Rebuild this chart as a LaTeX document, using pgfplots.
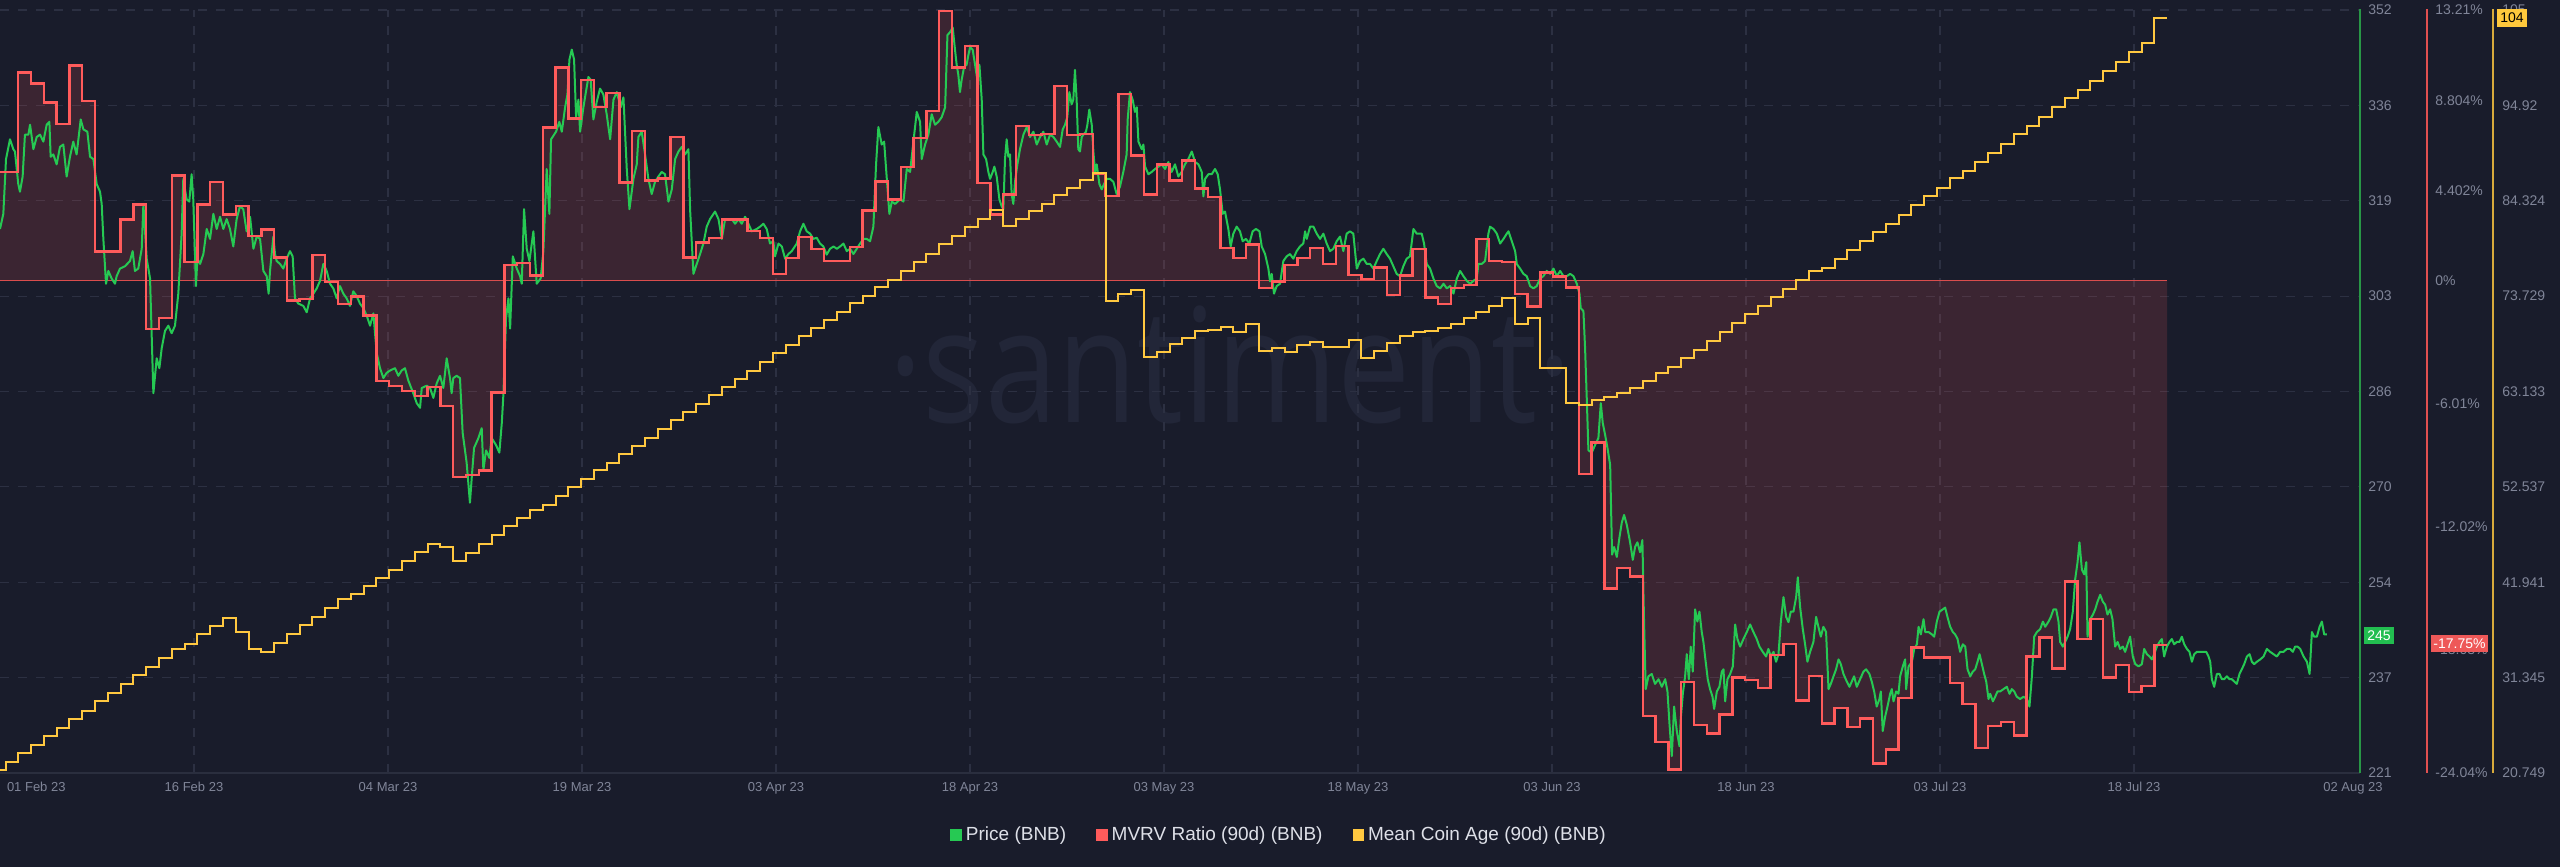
\documentclass[border=0pt]{standalone}
\usepackage{pgfplots}
\pgfplotsset{compat=1.18}
\usepackage{pgfplotstable}
\usepackage{graphicx}
\usepackage{fontspec}
\setmainfont{Liberation Sans}
\newfontfamily\wmfont{Open Sans}

\definecolor{bg}{RGB}{25,28,43}
\definecolor{gridc}{RGB}{44,48,66}
\definecolor{basec}{RGB}{42,46,62}
\definecolor{pricegreen}{RGB}{38,201,83}
\definecolor{mvrvred}{RGB}{255,91,91}
\definecolor{ageyellow}{RGB}{255,200,64}
\definecolor{ticktext}{RGB}{128,133,152}
\definecolor{legtext}{RGB}{222,224,232}
\definecolor{wm}{RGB}{34,38,56}
\definecolor{axgreen}{RGB}{40,150,70}
\definecolor{axred}{RGB}{225,80,80}
\definecolor{axyellow}{RGB}{215,170,60}
\definecolor{badgegreen}{RGB}{34,190,80}
\definecolor{badgered}{RGB}{238,88,88}
\definecolor{badgeyellow}{RGB}{255,200,60}

% MVRV Ratio (90d), % ; x = days since 01 Feb 2023
\pgfplotstableread{
x y
0 5.30
1.43 10.16
2.43 9.62
3.43 8.70
4.43 7.65
5.43 10.50
6.43 8.77
7.43 1.41
8.43 1.41
9.43 2.99
10.43 3.72
11.43 -2.36
12.43 -1.82
13.43 5.13
14.43 0.92
15.43 3.72
16.43 4.81
17.43 3.23
18.43 3.64
19.43 2.19
20.43 2.50
21.43 1.12
22.43 -0.98
23.43 -0.90
24.43 1.24
25.43 -0.07
26.43 -1.14
27.43 -0.78
28.43 -1.70
29.43 -4.91
30.43 -5.15
31.43 -5.40
32.43 -5.64
33.43 -5.20
34.43 -6.12
35.43 -9.58
36.43 -9.48
37.43 -9.28
38.43 -5.47
39.43 0.75
40.43 0.87
41.43 0.24
42.43 7.48
43.43 10.40
44.43 7.92
45.43 9.79
46.43 8.46
47.43 9.16
48.43 4.79
49.43 7.29
50.43 4.88
51.43 4.98
52.43 7.00
53.43 1.12
54.43 1.85
55.43 2.07
56.43 2.99
57.43 2.99
58.43 2.43
59.43 2.07
60.43 0.32
61.43 1.09
62.43 2.14
63.43 1.53
64.43 0.97
65.43 0.97
66.43 1.65
67.43 3.43
68.43 4.83
69.43 3.96
70.43 5.54
71.43 6.95
72.43 8.29
73.43 13.15
74.43 10.40
75.43 11.44
76.43 4.76
77.43 3.23
78.43 4.20
79.43 7.56
80.43 7.12
81.43 7.17
82.43 9.50
83.43 7.12
84.43 7.17
85.43 5.22
86.43 4.13
87.43 9.11
88.43 6.10
89.43 4.20
90.43 5.66
91.43 4.88
92.43 5.86
93.43 4.49
94.43 4.08
95.43 1.60
96.43 1.09
97.43 1.77
98.43 -0.37
99.43 -0.05
100.43 0.75
101.43 1.09
102.43 1.58
103.43 0.80
104.43 1.70
105.43 0.27
106.43 0.07
107.43 0.63
108.43 -0.71
109.43 0.24
110.43 1.53
111.43 -0.83
112.43 -1.14
113.43 -0.37
114.43 -0.22
115.43 2.02
116.43 0.97
117.43 0.92
118.43 -0.66
119.43 -1.26
120.43 0.39
121.43 0.19
122.43 -0.34
123.43 -9.45
124.43 -7.90
125.43 -15.04
126.43 -14.02
127.43 -14.44
128.43 -21.26
129.43 -22.53
130.43 -23.86
131.43 -19.61
132.43 -21.70
133.43 -22.11
134.43 -21.19
135.43 -19.37
136.43 -19.49
137.43 -19.90
138.43 -18.27
139.43 -17.74
140.43 -20.51
141.43 -19.30
142.43 -21.63
143.43 -20.87
144.43 -21.80
145.43 -21.38
146.43 -23.57
147.43 -22.90
148.43 -20.39
149.43 -17.91
150.43 -18.40
151.43 -18.40
152.43 -19.66
153.43 -20.66
154.43 -22.82
155.43 -21.75
156.43 -21.56
157.43 -22.21
158.43 -18.35
159.43 -17.42
160.43 -18.93
161.43 -14.70
162.43 -17.50
163.43 -16.52
164.43 -19.37
165.43 -18.76
166.43 -20.10
167.43 -19.78
168.43 -17.79
169.43 -17.79
}\mvrv

% Mean Coin Age (90d)
\pgfplotstableread{
x y
0 21.07
0.43 21.96
1.43 22.95
2.43 23.84
3.43 24.83
4.43 25.77
5.43 26.76
6.43 27.59
7.43 28.70
8.43 29.64
9.43 30.63
10.43 31.63
11.43 32.57
12.43 33.51
13.43 34.50
14.43 35.06
15.43 36.16
16.43 37.10
17.43 37.99
18.43 36.44
19.43 34.50
20.43 34.23
21.43 35.17
22.43 36.16
23.43 37.16
24.43 38.10
25.43 39.09
26.43 40.03
27.43 40.69
28.43 41.52
29.43 42.41
30.43 43.35
31.43 44.34
32.43 45.28
33.43 46.22
34.43 45.83
35.43 44.34
36.43 45.17
37.43 46.22
38.43 47.21
39.43 48.21
40.43 49.04
41.43 49.98
42.43 50.53
43.43 51.53
44.43 52.47
45.43 53.41
46.43 54.40
47.43 55.23
48.43 56.17
49.43 57.05
50.43 57.99
51.43 58.99
52.43 59.93
53.43 60.87
54.43 61.75
55.43 62.69
56.43 63.63
57.43 64.52
58.43 65.45
59.43 66.39
60.43 67.39
61.43 68.33
62.43 69.27
63.43 70.15
64.43 71.09
65.43 71.98
66.43 72.92
67.43 73.75
68.43 74.74
69.43 75.57
70.43 76.51
71.43 77.50
72.43 78.44
73.43 79.55
74.43 80.38
75.43 81.37
76.43 82.31
77.43 83.25
78.43 81.48
79.43 82.31
80.43 83.14
81.43 83.97
82.43 84.91
83.43 85.74
84.43 86.62
85.43 87.40
86.43 73.19
87.43 74.02
88.43 74.46
89.43 67.00
90.43 67.50
91.43 68.38
92.43 69.05
93.43 69.88
94.43 69.99
95.43 70.26
96.43 69.76
97.43 70.59
98.43 67.67
99.43 67.94
100.43 67.50
101.43 68.33
102.43 68.60
103.43 68.11
104.43 68.05
105.43 68.88
106.43 66.84
107.43 67.67
108.43 68.49
109.43 69.32
110.43 69.70
111.43 69.88
112.43 70.15
113.43 70.59
114.43 71.26
115.43 71.98
116.43 72.64
117.43 73.47
118.43 70.59
119.43 71.26
120.43 65.73
121.43 65.73
122.43 61.86
123.43 61.59
124.43 62.14
125.43 62.53
126.43 62.97
127.43 63.52
128.43 64.35
129.43 65.18
130.43 65.90
131.43 66.84
132.43 67.77
133.43 68.77
134.43 69.71
135.43 70.70
136.43 71.70
137.43 72.64
138.43 73.63
139.43 74.57
140.43 75.51
141.43 76.51
142.43 76.89
143.43 77.89
144.43 78.88
145.43 79.82
146.43 80.82
147.43 81.76
148.43 82.75
149.43 83.80
150.43 84.80
151.43 85.74
152.43 86.84
153.43 87.67
154.43 88.67
155.43 89.61
156.43 90.60
157.43 91.71
158.43 92.65
159.43 93.64
160.43 94.75
161.43 95.69
162.43 96.68
163.43 97.68
164.43 98.73
165.43 99.72
166.43 100.83
167.43 101.82
168.43 104.59
169.43 104.59
}\age

% Price (BNB), USD
\pgfplotstableread{
x y
0.00 314.4
0.26 317.0
0.47 326.4
0.78 329.8
1.04 328.1
1.17 327.7
1.43 322.1
1.56 320.8
1.77 323.4
1.95 330.6
2.22 330.6
2.35 332.3
2.61 328.1
2.87 330.2
3.13 330.6
3.39 329.4
3.65 332.3
3.86 332.8
3.96 326.8
4.17 327.2
4.43 325.5
4.69 328.5
4.95 328.9
5.21 323.4
5.47 326.8
5.73 329.4
5.99 327.2
6.31 333.2
6.52 331.5
6.83 331.1
7.04 326.8
7.30 326.4
7.56 322.1
7.82 320.8
7.95 318.7
8.08 312.7
8.29 305.0
8.47 307.2
8.73 305.9
8.99 305.0
9.12 306.3
9.38 307.6
9.77 308.0
10.16 308.9
10.37 310.6
10.55 307.2
10.81 307.6
11.08 311.0
11.21 318.7
11.47 309.3
11.73 305.9
11.99 286.2
12.25 292.2
12.46 290.5
12.64 293.9
12.90 296.9
13.16 297.8
13.42 296.5
13.68 297.8
13.94 303.3
14.20 313.6
14.33 323.0
14.59 319.5
14.80 319.1
14.98 323.8
15.11 319.5
15.32 304.6
15.43 309.3
15.64 308.4
15.90 310.1
16.16 314.4
16.42 312.7
16.68 317.0
16.94 314.4
17.20 316.5
17.46 314.4
17.72 316.1
17.98 314.4
18.24 311.4
18.50 316.1
18.76 318.3
19.02 317.8
19.28 314.0
19.55 316.5
19.81 311.0
20.07 313.1
20.33 312.7
20.59 307.2
20.85 306.3
21.00 303.3
21.11 307.2
21.37 313.1
21.50 310.1
21.63 308.9
21.89 308.4
22.15 307.6
22.41 309.3
22.67 310.6
22.88 309.7
23.06 302.5
23.32 301.6
23.71 301.2
23.98 300.1
24.24 302.5
24.50 303.3
24.76 304.2
25.02 305.5
25.28 308.4
25.54 307.2
25.80 305.0
26.06 304.2
26.32 302.5
26.58 304.6
26.84 303.3
27.10 302.5
27.36 301.2
27.62 303.7
27.88 302.9
28.14 301.6
28.41 300.8
28.67 299.5
28.93 297.8
29.19 299.9
29.45 293.1
29.71 290.5
29.97 288.8
30.23 289.7
30.49 290.1
30.88 290.5
31.14 289.2
31.40 290.1
31.66 290.5
31.92 288.4
32.31 286.2
32.58 284.5
32.84 283.7
32.97 287.1
33.36 287.5
33.62 287.1
33.88 285.4
34.14 287.9
34.40 289.2
34.66 287.1
34.92 292.2
35.18 288.8
35.31 286.2
35.44 288.8
35.70 289.2
35.96 288.8
36.17 279.4
36.48 274.3
36.74 267.4
36.88 271.7
37.06 276.8
37.40 278.5
37.66 280.2
37.79 273.0
38.00 276.4
38.26 275.1
38.44 278.5
38.78 277.3
39.04 276.0
39.23 281.1
39.36 286.2
39.56 299.0
39.75 302.5
39.88 297.3
40.09 309.7
40.40 307.6
40.66 306.3
40.79 305.0
40.97 317.8
41.18 311.0
41.39 308.9
41.70 314.0
41.96 305.0
42.27 305.9
42.48 310.6
42.74 324.7
42.95 317.0
43.08 329.8
43.47 331.1
43.73 332.8
43.92 331.1
44.18 335.3
44.36 337.5
44.52 343.5
44.70 345.2
44.88 343.5
45.04 333.6
45.22 336.6
45.35 331.1
45.61 335.3
46.00 340.5
46.18 340.0
46.39 333.2
46.65 336.2
46.91 338.5
47.17 337.5
47.43 334.1
47.70 329.8
47.96 336.6
48.22 337.9
48.53 335.3
48.74 337.0
49.00 324.7
49.21 317.8
49.52 323.0
49.78 325.5
49.91 330.2
50.17 331.1
50.43 327.2
50.69 323.0
50.95 320.4
51.21 322.5
51.47 323.4
51.73 324.2
51.99 323.8
52.26 319.1
52.52 321.2
52.78 326.4
53.04 327.7
53.30 328.5
53.56 327.2
53.82 328.1
53.95 317.8
54.21 306.7
54.47 308.4
54.73 310.1
54.99 311.9
55.25 314.8
55.51 316.1
55.90 317.4
56.17 316.1
56.43 312.7
56.69 316.1
56.95 316.1
57.21 316.1
57.47 315.3
57.73 316.1
57.99 315.3
58.25 316.5
58.51 315.3
58.77 314.0
59.16 314.4
59.42 314.8
59.68 315.3
59.94 314.4
60.20 311.9
60.46 312.3
60.59 309.7
60.86 311.9
61.12 311.4
61.38 309.3
61.64 310.1
61.90 310.6
62.29 311.9
62.55 314.0
62.81 315.3
63.07 314.0
63.33 313.6
63.59 312.7
63.85 312.9
64.11 311.9
64.37 311.4
64.63 310.0
64.89 311.0
65.16 311.4
65.42 311.0
65.68 311.4
65.94 311.9
66.20 310.6
66.46 311.0
66.72 310.1
66.98 311.0
67.24 311.9
67.50 312.7
67.76 312.7
68.02 312.3
68.28 314.8
68.49 325.5
68.67 331.9
68.93 328.9
69.12 329.4
69.33 323.0
69.53 317.0
69.72 319.1
69.98 318.7
70.37 319.5
70.63 319.1
70.89 324.7
71.15 324.2
71.41 329.4
71.67 334.5
71.93 332.8
72.06 326.4
72.32 328.9
72.58 330.6
72.84 334.1
73.10 332.3
73.36 332.8
73.62 333.6
73.89 335.3
74.07 347.7
74.28 348.2
74.48 349.0
74.66 345.2
74.79 342.6
74.92 340.9
75.05 337.9
75.18 340.0
75.37 342.2
75.57 342.6
75.71 344.3
75.84 345.6
76.04 345.2
76.23 342.6
76.41 340.0
76.57 342.6
76.75 336.6
76.88 327.2
77.09 326.4
77.27 324.2
77.40 323.0
77.61 324.2
77.74 325.1
77.92 323.4
78.13 319.5
78.31 318.3
78.44 317.8
78.57 326.4
78.70 329.8
78.83 326.8
78.96 327.2
79.09 320.4
79.22 318.7
79.35 322.5
79.54 325.5
79.74 328.1
80.01 330.6
80.27 331.9
80.53 330.2
80.79 331.1
81.05 328.9
81.31 330.2
81.57 331.1
81.83 328.9
82.09 330.6
82.35 330.2
82.61 329.4
82.87 328.5
83.08 331.5
83.26 332.3
83.44 333.6
83.60 337.9
83.78 335.8
83.91 336.6
84.04 341.7
84.17 336.6
84.30 328.1
84.43 327.7
84.57 330.2
84.70 330.6
84.90 331.1
85.01 332.3
85.16 334.9
85.35 332.3
85.48 327.7
85.61 324.2
85.74 325.5
85.95 322.1
86.13 321.2
86.31 322.1
86.52 323.0
86.78 323.0
87.04 322.5
87.30 320.4
87.56 321.7
87.82 324.2
88.08 327.2
88.16 333.2
88.34 337.9
88.55 336.6
88.73 334.5
88.87 335.3
89.00 329.4
89.26 328.1
89.39 328.9
89.52 325.1
89.78 323.8
90.04 324.2
90.30 324.7
90.56 325.1
90.82 325.5
91.08 324.7
91.34 325.9
91.60 324.2
91.86 325.5
92.12 323.4
92.38 324.2
92.64 325.5
92.90 326.4
93.17 327.7
93.43 325.9
93.69 325.5
93.95 324.2
94.08 320.0
94.21 323.0
94.47 323.8
94.73 323.8
94.99 324.7
95.20 323.8
95.38 321.2
95.59 317.0
95.77 317.4
96.03 314.4
96.21 311.4
96.42 313.6
96.68 314.8
96.94 314.0
97.15 312.3
97.41 312.7
97.67 311.9
97.93 314.0
98.19 314.4
98.46 314.0
98.64 311.4
98.90 310.1
99.16 307.6
99.29 305.4
99.42 306.7
99.60 303.3
99.81 304.6
100.07 305.0
100.33 308.9
100.59 309.7
100.85 310.1
101.11 309.3
101.37 310.6
101.63 311.4
101.89 311.9
102.03 314.0
102.16 312.7
102.42 314.8
102.68 314.8
102.94 313.6
103.20 312.7
103.46 313.6
103.72 311.9
103.98 310.6
104.24 311.0
104.50 312.3
104.76 313.1
105.02 310.6
105.28 313.6
105.54 314.0
105.80 313.6
106.07 307.6
106.33 308.9
106.59 309.3
106.85 308.4
107.11 308.4
107.37 307.6
107.63 308.9
107.89 310.1
108.15 311.0
108.41 310.1
108.67 309.3
108.93 308.0
109.19 306.7
109.45 306.3
109.71 308.0
109.97 309.3
110.23 309.7
110.50 314.4
110.76 313.6
111.15 313.6
111.33 311.9
111.54 308.4
111.80 307.6
112.06 305.9
112.32 304.6
112.59 304.2
112.85 305.0
113.11 304.2
113.37 304.6
113.63 303.3
113.89 305.9
114.15 307.2
114.41 306.3
114.67 305.5
114.93 305.0
115.19 305.5
115.45 305.9
115.58 308.4
115.84 308.4
116.10 308.9
116.36 313.6
116.49 314.8
116.76 314.4
117.02 313.6
117.28 311.9
117.54 312.7
117.80 313.6
117.93 314.0
118.19 312.3
118.45 310.6
118.58 308.4
118.84 307.6
119.10 306.7
119.36 306.3
119.62 304.6
119.88 304.2
120.14 304.6
120.40 305.9
120.66 306.3
120.92 307.2
121.19 306.7
121.45 307.6
121.71 306.3
121.97 307.2
122.23 306.3
122.49 306.3
122.75 306.7
123.01 306.3
123.27 305.0
123.48 303.3
123.58 300.8
123.79 300.3
123.92 293.9
124.05 285.4
124.18 276.4
124.44 276.0
124.70 277.3
124.96 278.5
125.15 284.5
125.30 281.1
125.49 279.0
125.67 276.8
125.88 273.9
125.95 266.6
126.03 258.5
126.19 259.8
126.40 258.1
126.61 261.5
126.79 264.0
126.97 265.3
127.18 263.6
127.44 260.6
127.65 257.6
127.83 259.8
128.01 260.6
128.22 258.9
128.40 261.0
128.53 246.9
128.66 235.4
128.87 237.6
129.13 238.0
129.39 236.3
129.66 237.1
129.92 235.8
130.18 237.1
130.36 235.0
130.52 229.4
130.70 223.9
130.88 232.4
131.09 228.2
131.30 225.6
131.40 230.3
131.56 234.6
131.74 237.6
131.87 241.4
132.03 237.1
132.18 242.7
132.34 238.4
132.52 249.1
132.70 247.0
132.86 248.7
133.04 245.2
133.17 243.5
133.30 241.0
133.51 237.1
133.69 235.4
133.88 234.1
134.01 232.0
134.22 235.0
134.42 235.8
134.61 238.4
134.74 238.8
134.87 233.3
135.05 237.1
135.26 238.0
135.47 239.3
135.65 246.5
135.83 244.0
136.04 242.7
136.30 244.0
136.56 245.2
136.82 246.5
137.08 245.2
137.34 244.0
137.55 242.7
137.81 241.8
138.07 241.0
138.25 242.3
138.44 241.0
138.65 241.8
138.85 240.1
139.04 241.4
139.22 246.9
139.43 251.2
139.64 247.8
139.82 246.9
140.00 248.7
140.21 248.7
140.42 251.2
140.55 254.6
140.73 249.5
140.94 245.7
141.12 243.1
141.30 240.1
141.51 241.8
141.77 243.5
141.98 247.8
142.16 246.1
142.35 244.4
142.55 246.1
142.76 245.2
142.95 235.4
143.13 236.3
143.34 237.6
143.54 238.8
143.73 240.5
143.91 239.7
144.12 238.0
144.38 236.7
144.59 235.8
144.77 236.7
144.95 237.6
145.16 235.8
145.42 237.1
145.68 238.4
145.89 238.8
146.15 238.0
146.33 236.7
146.52 235.0
146.72 232.4
146.93 233.7
147.04 235.0
147.19 228.2
147.38 230.7
147.56 232.4
147.77 234.6
147.90 235.4
148.03 233.3
148.24 235.0
148.42 234.6
148.55 237.6
148.76 239.3
148.94 240.5
149.02 235.4
149.21 239.3
149.47 240.1
149.65 242.3
149.86 243.1
149.99 246.1
150.17 244.8
150.38 247.4
150.51 245.2
150.77 245.2
151.03 244.8
151.21 244.4
151.42 247.0
151.63 248.7
151.89 249.1
152.07 249.4
152.25 247.8
152.46 246.1
152.67 245.2
152.85 244.8
153.04 244.0
153.24 241.8
153.45 243.1
153.64 242.7
153.82 238.8
154.03 237.6
154.23 238.4
154.42 238.8
154.60 240.1
154.76 241.4
154.94 239.7
155.12 238.0
155.28 236.7
155.46 233.7
155.59 234.6
155.80 233.3
155.98 234.1
156.16 235.0
156.37 235.0
156.63 235.4
156.89 235.8
157.10 234.6
157.28 235.4
157.47 235.0
157.67 234.1
157.93 233.7
158.20 234.1
158.46 233.7
158.66 232.4
158.85 237.6
159.03 244.4
159.24 245.2
159.50 245.7
159.71 247.0
159.89 246.1
160.15 247.0
160.33 247.8
160.54 249.1
160.75 249.1
160.93 247.0
161.06 243.5
161.27 242.7
161.45 243.5
161.64 244.4
161.84 245.7
162.05 248.7
162.23 254.2
162.42 257.2
162.57 260.6
162.76 255.9
162.94 255.1
163.10 257.2
163.20 244.4
163.41 247.4
163.62 248.2
163.80 249.1
163.98 250.4
164.19 251.6
164.40 250.4
164.58 249.9
164.76 248.2
164.97 249.1
165.15 247.4
165.36 242.7
165.55 243.5
165.75 242.3
165.96 242.7
166.14 241.8
166.33 243.1
166.53 244.4
166.74 241.0
166.93 239.7
167.19 239.3
167.45 239.7
167.63 242.3
167.84 241.4
168.05 241.0
168.23 240.5
168.41 241.4
168.62 242.7
168.83 243.5
169.01 244.0
169.19 241.0
169.40 242.7
169.61 243.5
169.79 244.0
169.97 243.1
170.18 243.5
170.39 243.5
170.57 244.4
170.76 243.1
170.97 242.3
171.17 241.8
171.36 240.1
171.54 241.4
171.75 241.8
172.01 241.8
172.27 241.8
172.48 241.8
172.66 241.0
172.79 240.1
172.92 237.1
173.10 235.8
173.31 238.0
173.52 238.0
173.70 237.1
173.88 237.1
174.09 237.6
174.30 237.1
174.48 237.1
174.67 236.7
174.87 236.3
175.08 238.0
175.26 238.8
175.45 239.7
175.66 241.0
175.87 241.4
176.05 240.1
176.23 239.7
176.44 240.1
176.70 240.5
176.96 241.0
177.22 242.3
177.48 241.8
177.74 241.4
178.00 241.0
178.26 241.8
178.52 241.8
178.78 242.3
179.04 242.3
179.25 241.8
179.43 242.7
179.62 242.7
179.83 242.3
180.09 241.0
180.35 240.1
180.56 238.0
180.74 245.2
180.92 244.4
181.13 244.4
181.34 246.1
181.52 247.0
181.70 244.8
181.91 244.8
}\price

\pgfplotsset{
  layer/.style={scale only axis, width=1180pt, height=381.5pt,
    at={(0pt,0pt)}, anchor=south west, xmin=0, xmax=184.5},
  hidden/.style={layer, hide axis},
  rightlabels/.style={axis line style={draw=none}, tick style={draw=none},
    xtick=\empty, yticklabel pos=right,
    yticklabel style={font=\fontsize{7}{8}\selectfont, text=ticktext,
      anchor=west, inner sep=0pt, xshift=#1}},
}

\begin{document}
\begin{tikzpicture}
\fill[bg] (0pt,-47pt) rectangle (1280pt,386.5pt);
\node[anchor=base, text=wm, inner sep=0pt] at (615pt,175pt)
  {\scalebox{0.82}[1]{\wmfont\fontsize{79.5}{80}\selectfont ·santiment·}};

% base axis: price scale, grid, date labels, legend
\begin{axis}[layer, ymin=221, ymax=352,
  axis line style={draw=none}, tick style={draw=none},
  xtick={15.1667,30.3333,45.5,60.6667,75.8333,91,106.1667,121.3333,136.5,151.6667,166.8333},
  xticklabels={16 Feb 23,04 Mar 23,19 Mar 23,03 Apr 23,18 Apr 23,03 May 23,18 May 23,03 Jun 23,18 Jun 23,03 Jul 23,18 Jul 23},
  ytick={221,237.375,253.75,270.125,286.5,302.875,319.25,335.625,352},
  yticklabels={221,237,254,270,286,303,319,336,352},
  yticklabel pos=right,
  grid=major,
  major grid style={draw=gridc, dash pattern=on 4.5pt off 4.5pt, line width=0.6pt},
  xticklabel style={font=\fontsize{6.5}{7}\selectfont, text=ticktext, anchor=base, inner sep=0pt, yshift=-9.25pt},
  yticklabel style={font=\fontsize{7}{8}\selectfont, text=ticktext, anchor=west, inner sep=0pt, xshift=4pt},
  legend style={at={(0.5424,-0.0813)}, anchor=center, draw=none, fill=none,
    text=legtext, font=\fontsize{9.5}{11}\selectfont, legend columns=3,
    /tikz/every even column/.append style={column sep=13pt}},
  legend image code/.code={\fill[#1] (0pt,-2.9pt) rectangle (5.75pt,2.9pt);},
]
\addlegendimage{fill=pricegreen, draw=none}
\addlegendentry{Price (BNB)}
\addlegendimage{fill=mvrvred, draw=none}
\addlegendentry{MVRV Ratio (90d) (BNB)}
\addlegendimage{fill=ageyellow, draw=none}
\addlegendentry{Mean Coin Age (90d) (BNB)}
\end{axis}

% MVRV area + labels
\begin{axis}[layer, rightlabels=37.5pt, ymin=-24.04, ymax=13.21,
  ytick={-24.04,-18.03,-12.02,-6.01,0,4.402,8.804,13.21},
  yticklabels={-24.04\%,-18.03\%,-12.02\%,-6.01\%,0\%,4.402\%,8.804\%,13.21\%}]
\addplot[const plot, draw=none, fill=mvrvred, fill opacity=0.15] table[x=x,y=y]{\mvrv} \closedcycle;
\addplot[mvrvred!85!black, line width=0.6pt] coordinates {(0,0) (169.43,0)};
\end{axis}

% Price line
\begin{axis}[hidden, ymin=221, ymax=352]
\addplot[pricegreen, line width=1pt, line join=round] table[x=x,y=y]{\price};
\end{axis}

% MVRV line
\begin{axis}[hidden, ymin=-24.04, ymax=13.21]
\addplot[const plot, mvrvred, line width=1.2pt] table[x=x,y=y]{\mvrv};
\end{axis}

% Mean coin age line + labels
\begin{axis}[layer, rightlabels=71pt, ymin=20.749, ymax=105.517,
  ytick={20.749,31.345,41.941,52.537,63.133,73.729,84.325,94.921,105.517},
  yticklabels={20.749,31.345,41.941,52.537,63.133,73.729,84.324,94.92,105}]
\addplot[const plot, ageyellow, line width=1pt] table[x=x,y=y]{\age};
\end{axis}

% axis lines
\draw[basec, line width=0.6pt] (0pt,0pt) -- (1180pt,0pt);
\draw[axgreen, line width=0.75pt] (1180pt,0pt) -- (1180pt,382pt);
\draw[axred, line width=0.75pt] (1213.5pt,0pt) -- (1213.5pt,382pt);
\draw[axyellow, line width=0.75pt] (1246.5pt,0pt) -- (1246.5pt,382pt);

% edge date labels
\node[anchor=base west, inner sep=0pt, text=ticktext, font=\fontsize{6.5}{7}\selectfont] at (3.3pt,-9.25pt) {01 Feb 23};
\node[anchor=base, inner sep=0pt, text=ticktext, font=\fontsize{6.5}{7}\selectfont] at (1176.5pt,-9.25pt) {02 Aug 23};

% last value badges
\node[fill=badgegreen, text=white, inner sep=0pt, minimum width=15pt, minimum height=8.5pt, font=\fontsize{7}{8}\selectfont] at (1189.5pt,68.75pt) {245};
\node[fill=badgered, text=white, inner sep=0pt, minimum width=28.5pt, minimum height=8.5pt, font=\fontsize{7}{8}\selectfont] at (1229.75pt,64.75pt) {-17.75\%};
\node[fill=badgeyellow, text=black, inner sep=0pt, minimum width=15pt, minimum height=9pt, font=\fontsize{7}{8}\selectfont] at (1256pt,377.5pt) {104};

\pgfresetboundingbox
\useasboundingbox (0pt,-47pt) rectangle (1280pt,386.5pt);
\end{tikzpicture}
\end{document}
